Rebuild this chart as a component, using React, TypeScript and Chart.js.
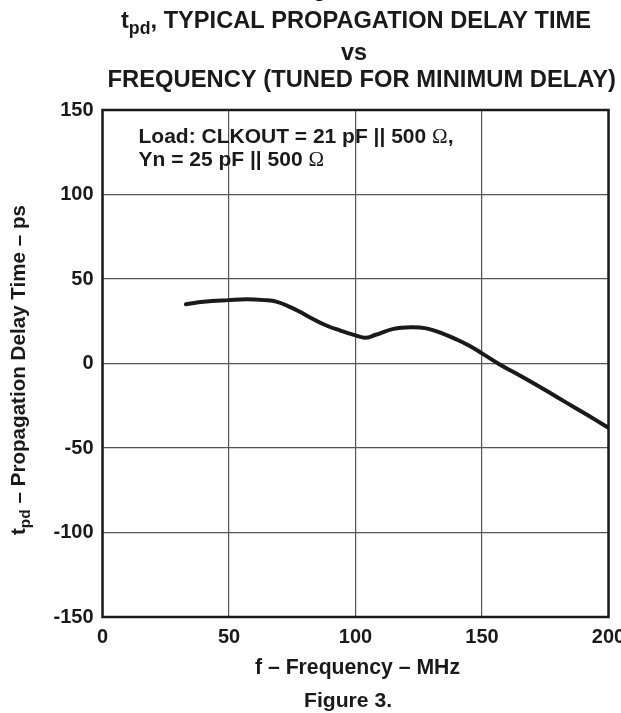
import React, { useEffect, useRef } from "react";
import { Chart, registerables } from "chart.js";

Chart.register(...registerables);

// ---- data ----
const frequencyMHz = [33, 40, 50, 57, 64, 69, 74, 78, 83, 88.5, 94, 100, 104, 108, 115, 122, 128, 134, 140, 145, 150, 157, 163, 170, 177, 183.5, 190, 195, 200];
const delayPs = [35, 36.5, 37.5, 38, 37.5, 36.5, 33.5, 30.6, 26.5, 22.5, 19.5, 16.6, 15.2, 17, 20.5, 21.5, 20.8, 18, 14.2, 10.5, 6, -0.6, -5.5, -11.4, -17.5, -23.3, -29, -33.5, -38];
const xTickValues = [0, 50, 100, 150, 200];
const yTickValues = [-150, -100, -50, 0, 50, 100, 150];

const titleLine1 = ", TYPICAL PROPAGATION DELAY TIME";
const titleLine2 = "vs";
const titleLine3 = "FREQUENCY (TUNED FOR MINIMUM DELAY)";
const loadLine1 = "Load: CLKOUT = 21 pF || 500 ";
const loadLine2 = "Yn = 25 pF || 500 ";
const xAxisTitle = "f – Frequency – MHz";
const yAxisTitle = " – Propagation Delay Time – ps";
const figureCaption = "Figure 3.";

const SANS = '"Liberation Sans", Arial, Helvetica, sans-serif';
const SERIF = '"Liberation Serif", "Times New Roman", serif';
const INK = "#1a1a1a";

type Run = { text: string; font: string; dy?: number };

// draws runs of text starting at (x, y); if targetWidth is given they are scaled uniformly to span it
function drawRuns(ctx: CanvasRenderingContext2D, runs: Run[], x: number, y: number, targetWidth?: number) {
  let total = 0;
  const widths = runs.map((r) => {
    ctx.font = r.font;
    const w = ctx.measureText(r.text).width;
    total += w;
    return w;
  });
  const s = targetWidth ? targetWidth / total : 1;
  ctx.save();
  ctx.translate(x, y);
  ctx.scale(s, s);
  ctx.fillStyle = INK;
  ctx.textBaseline = "alphabetic";
  ctx.textAlign = "left";
  let cx = 0;
  runs.forEach((r, i) => {
    ctx.font = r.font;
    ctx.fillText(r.text, cx, r.dy || 0);
    cx += widths[i];
  });
  ctx.restore();
}

const decorPlugin = {
  id: "decor",
  afterDatasetsDraw(chart: any) {
    const ctx: CanvasRenderingContext2D = chart.ctx;
    const a = chart.chartArea;
    ctx.save();
    ctx.strokeStyle = INK;
    ctx.lineWidth = 2.5;
    ctx.strokeRect(a.left, a.top, a.right - a.left, a.bottom - a.top);
    ctx.restore();
  },
  afterDraw(chart: any) {
    const ctx: CanvasRenderingContext2D = chart.ctx;
    const B = (px: number) => `bold ${px}px ${SANS}`;
    ctx.save();
    // cut-off glyph from the line above
    ctx.fillStyle = INK;
    ctx.font = B(22);
    ctx.fillText("g", 313, -4);
    // title
    drawRuns(ctx, [
      { text: "t", font: B(20) },
      { text: "pd", font: B(15), dy: 5 },
      { text: titleLine1, font: B(20) },
    ], 121, 28, 470);
    drawRuns(ctx, [{ text: titleLine2, font: B(20) }], 341, 60, 26);
    drawRuns(ctx, [{ text: titleLine3, font: B(20) }], 107.5, 87, 508.5);
    // load annotation
    drawRuns(ctx, [
      { text: loadLine1, font: B(21) },
      { text: "Ω", font: `21px ${SERIF}` },
      { text: ",", font: B(21) },
    ], 138.5, 142.5);
    drawRuns(ctx, [
      { text: loadLine2, font: B(21) },
      { text: "Ω", font: `21px ${SERIF}` },
    ], 138.5, 165.5);
    // axis titles
    drawRuns(ctx, [{ text: xAxisTitle, font: B(20) }], 255, 674, 205);
    drawRuns(ctx, [{ text: figureCaption, font: B(20) }], 304, 707, 88);
    ctx.save();
    ctx.translate(24.5, 535);
    ctx.rotate(-Math.PI / 2);
    drawRuns(ctx, [
      { text: "t", font: B(20) },
      { text: "pd", font: B(15), dy: 5 },
      { text: yAxisTitle, font: B(20) },
    ], 0, 0, 330);
    ctx.restore();
    ctx.restore();
  },
};

export default function App() {
  const canvasRef = useRef<HTMLCanvasElement | null>(null);

  useEffect(() => {
    const canvas = canvasRef.current;
    if (!canvas) return;
    const tickFont = { family: SANS, size: 20, weight: "bold" as const };
    const chart = new Chart(canvas, {
      type: "line",
      data: {
        datasets: [
          {
            data: frequencyMHz.map((f, i) => ({ x: f, y: delayPs[i] })),
            borderColor: INK,
            borderWidth: 4,
            pointRadius: 0,
            tension: 0.4,
            fill: false,
            borderCapStyle: "round",
            borderJoinStyle: "round",
          },
        ],
      },
      options: {
        responsive: false,
        animation: false,
        devicePixelRatio: 1,
        layout: { padding: { top: 110, right: 12.5, left: 0, bottom: 0 } },
        plugins: {
          legend: { display: false },
          tooltip: { enabled: false },
          title: { display: false },
        },
        scales: {
          x: {
            type: "linear",
            min: 0,
            max: 200,
            afterBuildTicks: (s: any) => {
              s.ticks = xTickValues.map((v) => ({ value: v }));
            },
            afterFit: (s: any) => {
              s.height = 96;
              s.paddingLeft = 0;
              s.paddingRight = 0;
            },
            grid: { color: "#555", lineWidth: 1.2, drawTicks: false },
            border: { display: false },
            ticks: {
              font: tickFont,
              color: INK,
              padding: 8,
              maxRotation: 0,
              autoSkip: false,
              callback: (v: any) => String(v),
            },
          },
          y: {
            type: "linear",
            min: -150,
            max: 150,
            afterBuildTicks: (s: any) => {
              s.ticks = yTickValues.map((v) => ({ value: v }));
            },
            afterFit: (s: any) => {
              s.width = 102.5;
              s.paddingTop = 0;
              s.paddingBottom = 0;
            },
            grid: { color: "#555", lineWidth: 1.2, drawTicks: false },
            border: { display: false },
            ticks: {
              font: tickFont,
              color: INK,
              padding: 9,
              autoSkip: false,
              callback: (v: any) => String(v),
            },
          },
        },
      } as any,
      plugins: [decorPlugin],
    });
    return () => chart.destroy();
  }, []);

  return (
    <div style={{ position: "absolute", left: 0, top: 0, width: 621, height: 713, background: "#fff" }}>
      <canvas ref={canvasRef} width={621} height={713} style={{ display: "block", width: 621, height: 713 }} />
    </div>
  );
}
